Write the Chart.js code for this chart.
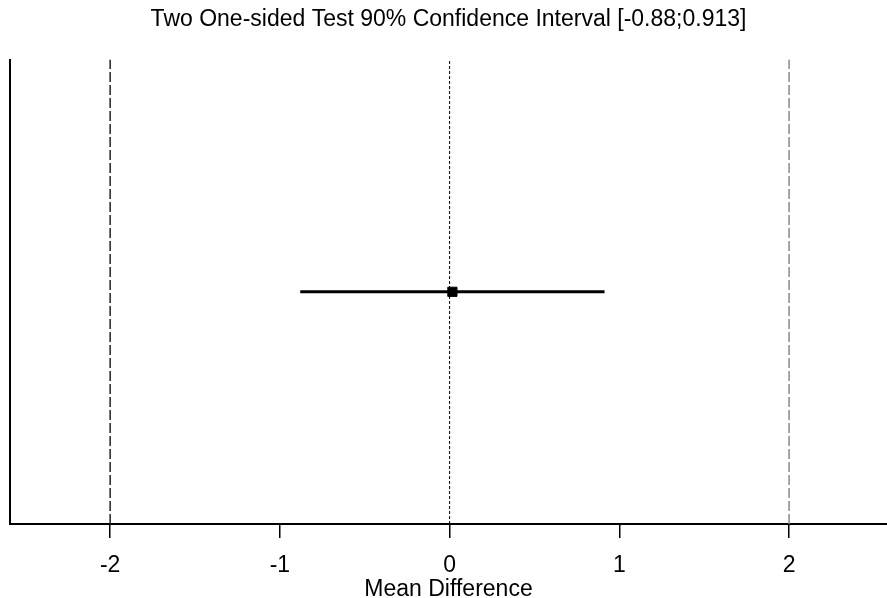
<!DOCTYPE html>
<html>
<head>
<meta charset="utf-8">
<script src="https://cdn.jsdelivr.net/npm/chart.js@4/dist/chart.umd.min.js"></script>
<style>
  html, body { margin: 0; padding: 0; background: #fff; overflow: hidden; }
  #wrap { width: 887px; height: 598px; }
</style>
</head>
<body>
<div id="wrap"><canvas id="chart_tost"></canvas></div>
<script>
'use strict';

// confidence interval and estimate
const ciLower = -0.88,
    ciUpper = 0.913,
    estimate = (ciLower + ciUpper) / 2;
// equivalence bounds
const lowerBound = -2,
    upperBound = 2;
const xTicks = [-2, -1, 0, 1, 2];
const xRange = [-2.59, 2.577];
const yRange = [0, 2];
const rowY = 1;

const titleText = 'Two One-sided Test 90% Confidence Interval [-0.88;0.913]',
    xTitle = 'Mean Difference',
    FONT = "'Liberation Sans', Arial, sans-serif";

function vline(x, color, dash, width) {
    return {
        type: 'line',
        data: [{x: x, y: yRange[0]}, {x: x, y: yRange[1]}],
        borderColor: color,
        borderWidth: width,
        borderDash: dash,
        pointRadius: 0,
        fill: false,
    };
}

const datasets = [
    vline(lowerBound, '#222', [10, 3], 1.5),
    vline(0, '#000', [3, 2], 1),
    vline(upperBound, '#888', [10, 3], 1.5),
    {
        type: 'line',
        data: [{x: ciLower, y: rowY}, {x: ciUpper, y: rowY}],
        borderColor: '#000',
        borderWidth: 3,
        pointRadius: 0,
        fill: false,
    },
    {
        type: 'scatter',
        data: [{x: estimate, y: rowY}],
        pointStyle: 'rect',
        pointRadius: 6.5,
        borderWidth: 1,
        backgroundColor: '#000',
        borderColor: '#000',
    },
];

const ctx = document.getElementById('chart_tost').getContext('2d');
window.ChartTost = new Chart(ctx, {
    type: 'scatter',
    data: {datasets: datasets},
    options: {
        responsive: true,
        maintainAspectRatio: false,
        animation: false,
        layout: {autoPadding: false, padding: {left: 10, right: 0, top: 0, bottom: 0}},
        plugins: {
            legend: {display: false},
            tooltip: {enabled: false},
            title: {
                display: true,
                text: titleText,
                color: '#000',
                font: {family: FONT, size: 23, weight: 'normal', lineHeight: 1.2},
                padding: {top: 6, bottom: 26},
            },
        },
        scales: {
            x: {
                type: 'linear',
                min: xRange[0],
                max: xRange[1],
                afterBuildTicks: scale => {
                    scale.ticks = xTicks.map(v => ({value: v}));
                },
                afterFit: scale => {
                    scale.paddingLeft = 0;
                    scale.paddingRight = 0;
                },
                grid: {
                    drawOnChartArea: false,
                    drawTicks: true,
                    tickLength: 14,
                    color: '#000',
                    lineWidth: 1.5,
                },
                border: {display: true, color: '#000', width: 2},
                ticks: {
                    color: '#000',
                    font: {family: FONT, size: 23, lineHeight: 1},
                    padding: 16,
                    maxRotation: 0,
                },
                title: {
                    display: true,
                    text: xTitle,
                    color: '#000',
                    font: {family: FONT, size: 23, lineHeight: 1},
                    padding: {top: -15, bottom: -3},
                },
            },
            y: {
                type: 'linear',
                min: yRange[0],
                max: yRange[1],
                grid: {display: false, drawTicks: false},
                border: {display: true, color: '#000', width: 2},
                ticks: {display: false},
            },
        },
    },
});
</script>
</body>
</html>
